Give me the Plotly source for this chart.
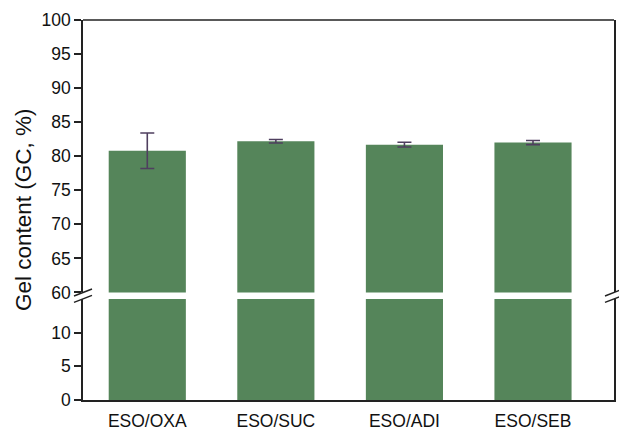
import plotly.graph_objects as go

# Gel content of ESO cured with different diacids
categories = ["ESO/OXA", "ESO/SUC", "ESO/ADI", "ESO/SEB"]
gel_content = [80.8, 82.2, 81.7, 82.0]
gel_error = [2.6, 0.25, 0.35, 0.3]

bar_color = "#55855a"
err_color = "#4f3f5f"
font_family = "Liberation Sans, Arial, sans-serif"

fig = go.Figure()

# lower segment of the broken axis (0-15)
fig.add_trace(go.Bar(
    x=categories, y=gel_content, width=0.6,
    marker=dict(color=bar_color, line=dict(width=0)),
    xaxis="x", yaxis="y", showlegend=False,
))
# upper segment of the broken axis (60-100) with error bars
fig.add_trace(go.Bar(
    x=categories, y=gel_content, width=0.6,
    marker=dict(color=bar_color, line=dict(width=0)),
    error_y=dict(type="data", array=gel_error, visible=True,
                 color=err_color, thickness=1.6, width=7),
    xaxis="x2", yaxis="y2", showlegend=False,
))

low_dom = [0, 0.266]
high_dom = [0.283, 1]
axis_color = "#222222"
tick_font = dict(family=font_family, size=17.5, color="#111111")

fig.update_layout(
    width=619, height=430,
    margin=dict(l=83, r=5, t=20, b=30),
    plot_bgcolor="white", paper_bgcolor="white",
    font=dict(family=font_family, color="#111111"),
    bargap=0.4,
    xaxis=dict(
        domain=[0, 1], anchor="y", range=[-0.5, 3.63], automargin=False,
        showline=True, linecolor=axis_color, linewidth=1.5,
        ticks="", tickfont=tick_font, ticklabelstandoff=4,
        showgrid=False, zeroline=False,
    ),
    xaxis2=dict(
        domain=[0, 1], anchor="y2", range=[-0.5, 3.63], matches="x",
        showticklabels=False, showline=False, ticks="", automargin=False,
        showgrid=False, zeroline=False,
    ),
    yaxis=dict(
        domain=low_dom, range=[0, 15], anchor="x", automargin=False,
        tickvals=[0, 5, 10], ticks="outside", ticklen=7, tickwidth=1.5,
        tickcolor=axis_color, showline=True, linecolor=axis_color,
        linewidth=1.5, mirror=True, tickfont=tick_font,
        showgrid=False, zeroline=False,
    ),
    yaxis2=dict(
        domain=high_dom, range=[60, 100], anchor="x2", automargin=False,
        tickvals=[60, 65, 70, 75, 80, 85, 90, 95, 100],
        ticks="outside", ticklen=7, tickwidth=1.5, tickcolor=axis_color,
        showline=True, linecolor=axis_color, linewidth=1.5, mirror=True,
        tickfont=tick_font, showgrid=False, zeroline=False,
    ),
)

# top border of the frame
fig.add_shape(type="line", xref="paper", yref="paper",
              x0=0, x1=1, y0=1, y1=1,
              line=dict(color=axis_color, width=1.5))

# break marks on both vertical axes
for xa in (0, 1):
    for ya in (high_dom[0], low_dom[1]):
        fig.add_shape(type="line", xref="paper", yref="paper",
                      xsizemode="pixel", ysizemode="pixel",
                      xanchor=xa, yanchor=ya,
                      x0=-9, x1=9, y0=-3.5, y1=3.5,
                      line=dict(color=axis_color, width=1.5))

fig.add_annotation(
    text="Gel content (GC, %)", xref="paper", yref="paper",
    x=0, y=0.5, xanchor="center", yanchor="middle", xshift=-60,
    textangle=-90, showarrow=False,
    font=dict(family=font_family, size=22.5, color="#111111"),
)

fig.write_html("out.html")
